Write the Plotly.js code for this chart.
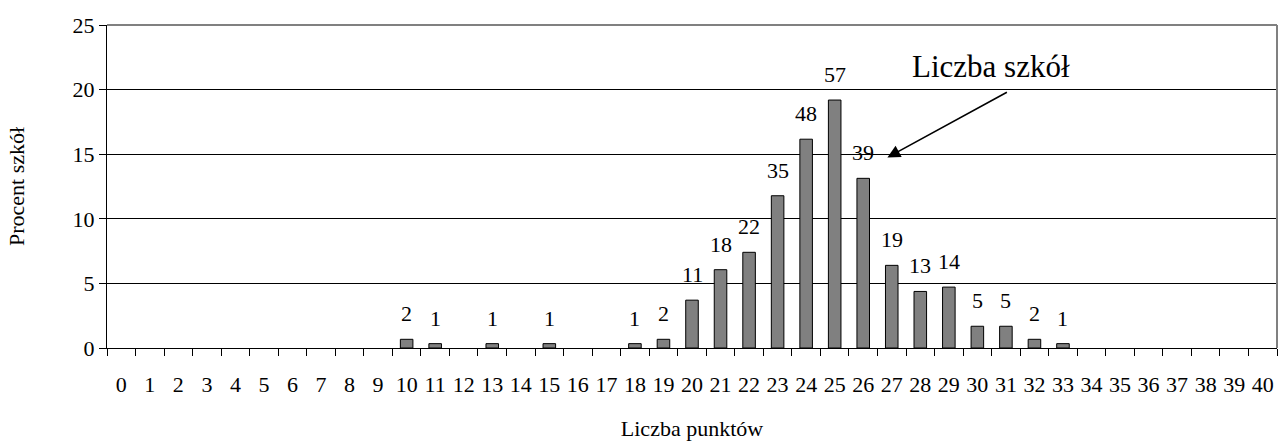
<!DOCTYPE html>
<html>
<head>
<meta charset="utf-8">
<script src="https://cdn.plot.ly/plotly-3.0.1.min.js"></script>
<style>
  html, body { margin: 0; padding: 0; background: #fff; }
  #chart { width: 1279px; height: 445px; }
</style>
</head>
<body>
<div id="chart"></div>
<script>
// Points scored (0–40) and the number of schools at each score
const points = [];
for (let p = 0; p <= 40; p++) points.push(String(p));

const schoolCounts = {
  '10': 2, '11': 1, '13': 1, '15': 1, '18': 1, '19': 2,
  '20': 11, '21': 18, '22': 22, '23': 35, '24': 48, '25': 57,
  '26': 39, '27': 19, '28': 13, '29': 14, '30': 5, '31': 5,
  '32': 2, '33': 1
};

const yTicks = [0, 5, 10, 15, 20, 25];

const counts = points.map(p => schoolCounts[p] || 0);
const totalSchools = counts.reduce((a, b) => a + b, 0);
// share of schools in percent; empty scores get no bar
const percents = counts.map(c => (c > 0 ? c / totalSchools * 100 : null));

const FONT = 'Liberation Serif';

const trace = {
  type: 'bar',
  x: points,
  y: percents,
  marker: { color: '#808080', line: { color: '#000', width: 1 } },
  hoverinfo: 'skip'
};

// count labels above the bars
const labels = points
  .map((p, i) => ({ p, c: counts[i], v: percents[i] }))
  .filter(d => d.c > 0)
  .map(d => ({
    x: d.p, y: d.v, xref: 'x', yref: 'y',
    text: String(d.c), showarrow: false,
    xanchor: 'center', yanchor: 'bottom', yshift: 11,
    font: { family: FONT, size: 22, color: '#000' }
  }));

labels.push({
  xref: 'paper', yref: 'paper', x: 0.7556, y: 0.87,
  xanchor: 'center', yanchor: 'middle',
  text: 'Liczba szkół', showarrow: false,
  font: { family: FONT, size: 31, color: '#000' }
});
labels.push({
  xref: 'paper', yref: 'paper', x: 0.667, y: 0.59,
  axref: 'pixel', ayref: 'pixel', ax: 121, ay: -66,
  text: '', showarrow: true, arrowhead: 2, arrowsize: 1.6,
  arrowwidth: 1.6, arrowcolor: '#000'
});

const layout = {
  width: 1279, height: 445,
  margin: { l: 107, r: 2, t: 25, b: 97 },
  paper_bgcolor: '#fff', plot_bgcolor: '#fff',
  showlegend: false,
  bargap: 0.56,
  font: { family: FONT, size: 22, color: '#000' },
  xaxis: {
    type: 'category',
    tickson: 'boundaries',
    tickangle: 0,
    ticks: 'outside', ticklen: 7, tickwidth: 1, tickcolor: '#000',
    ticklabelstandoff: 17,
    showline: true, linecolor: '#000', linewidth: 1,
    showgrid: false, zeroline: false,
    tickfont: { family: FONT, size: 22 },
    title: { text: 'Liczba punktów', font: { family: FONT, size: 22 }, standoff: 24 }
  },
  yaxis: {
    range: [0, 25],
    tickvals: yTicks,
    ticks: 'outside', ticklen: 7, tickwidth: 1, tickcolor: '#000',
    showline: true, linecolor: '#000', linewidth: 1,
    showgrid: true, gridcolor: '#000', gridwidth: 1,
    zeroline: false,
    tickfont: { family: FONT, size: 22 },
    title: { text: 'Procent szkół', font: { family: FONT, size: 22 }, standoff: 41 }
  },
  shapes: [
    { type: 'line', xref: 'paper', yref: 'paper', x0: 0, x1: 1, y0: 1, y1: 1,
      line: { color: '#808080', width: 2 } },
    { type: 'line', xref: 'paper', yref: 'paper', x0: 1, x1: 1, y0: 0, y1: 1,
      line: { color: '#808080', width: 2 } }
  ],
  annotations: labels
};

Plotly.newPlot('chart', [trace], layout, { staticPlot: true, displayModeBar: false });
</script>
</body>
</html>
